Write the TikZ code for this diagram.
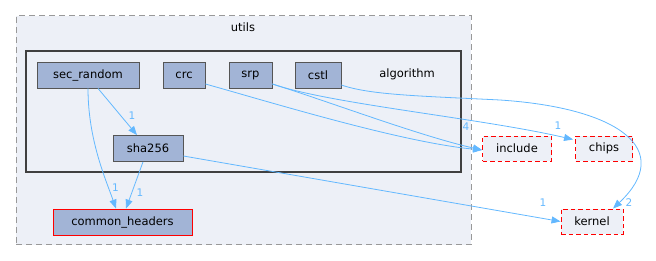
\documentclass[tikz,border=0pt]{standalone}
\usepackage{fontspec}
\setmainfont{DejaVu Sans}
\usetikzlibrary{arrows.meta}
\definecolor{nodefill}{HTML}{A2B4D6}
\definecolor{clfill}{HTML}{EDF0F7}
\definecolor{edgec}{HTML}{63B8FF}
\definecolor{outerc}{HTML}{999999}
\definecolor{innerc}{HTML}{404040}
\definecolor{boxc}{HTML}{555555}
\tikzset{
  outercl/.style={draw=outerc, fill=clfill, dash pattern=on 6pt off 4pt, line width=1pt, inner sep=0pt},
  innercl/.style={draw=innerc, fill=clfill, line width=1.6pt, inner sep=0pt},
  cltext/.style={font=\fontsize{11.5}{13}\selectfont, text=black, inner sep=0pt},
  dirbox/.style={draw=boxc, fill=nodefill, line width=0.8pt, minimum height=26pt, inner sep=0pt, font=\fontsize{11.5}{13}\selectfont},
  redbox/.style={draw=red, fill=nodefill, line width=0.8pt, minimum height=26pt, inner sep=0pt, font=\fontsize{11.5}{13}\selectfont},
  extbox/.style={draw=red, fill=clfill, dash pattern=on 4.5pt off 3pt, line width=0.9pt, minimum height=25pt, inner sep=0pt, font=\fontsize{11.5}{13}\selectfont},
  edge/.style={draw=edgec, line width=0.8pt, -{Triangle[length=9pt,width=7pt]}},
  lab/.style={text=edgec, font=\fontsize{10.5}{12}\selectfont, inner sep=0pt}
}
\begin{document}
\begin{tikzpicture}[x=1pt,y=-1pt]
\useasboundingbox (0,0) rectangle (656,261);
% clusters
\node[outercl, minimum width=455pt, minimum height=229pt] (utils) at (243.5,130.5) {};
\node[cltext] (utilslab) at (243,27) {utils};
\node[innercl, minimum width=435pt, minimum height=121pt] (algo) at (243.5,111.5) {};
\node[cltext] (algolab) at (407,74) {algorithm};
% nodes
\node[dirbox, minimum width=102pt] (secr) at (88,75) {sec\_random};
\node[dirbox, minimum width=42pt] (crc) at (184,75) {crc};
\node[dirbox, minimum width=43pt] (srp) at (250.5,75) {srp};
\node[dirbox, minimum width=46pt] (cstl) at (318,75) {cstl};
\node[dirbox, minimum width=70pt] (sha) at (148,148.5) {sha256};
\node[redbox, minimum width=139pt] (common) at (122.5,222) {common\_headers};
\node[extbox, minimum width=69pt] (include) at (517,148.5) {include};
\node[extbox, minimum width=57pt] (chips) at (604,148.5) {chips};
\node[extbox, minimum width=62pt] (kernel) at (592,221.5) {kernel};
% edges
\draw[edge] ([xshift=10pt]secr.south) -- ([xshift=-11pt]sha.north);
\node[lab] (l1) at (132,116) {1};
\draw[edge] (secr.south) .. controls (88,140) and (106,180) .. ([xshift=-6.5pt]common.north);
\node[lab] (l2) at (115.5,188) {1};
\draw[edge] ([xshift=-5pt]sha.south) -- ([xshift=3.5pt]common.north);
\node[lab] (l3) at (140,193) {1};
\draw[edge] ([yshift=-7.5pt]sha.east) -- (kernel.west);
\node[lab] (l4) at (543,203) {1};
\draw[edge] ([yshift=-9pt]crc.east) .. controls (270,102) and (400,142) .. ([yshift=-1.5pt]include.west);
\draw[edge] ([yshift=-9pt]srp.east) .. controls (330,102) and (420,136) .. ([yshift=-1.5pt]include.west);
\node[lab] (l5) at (466,127) {4};
\draw[edge] ([yshift=-9pt]srp.east) .. controls (330,104) and (480,118) .. ([xshift=-2pt,yshift=9pt]chips.west);
\node[lab] (l6) at (558,126) {1};
\draw[edge] ([yshift=-10pt]cstl.east) .. controls (370,95) and (420,96) .. (500,100) .. controls (620,108) and (675,150) .. ([xshift=21pt]kernel.north);
\node[lab] (l7) at (629,203) {2};
\end{tikzpicture}
\end{document}
